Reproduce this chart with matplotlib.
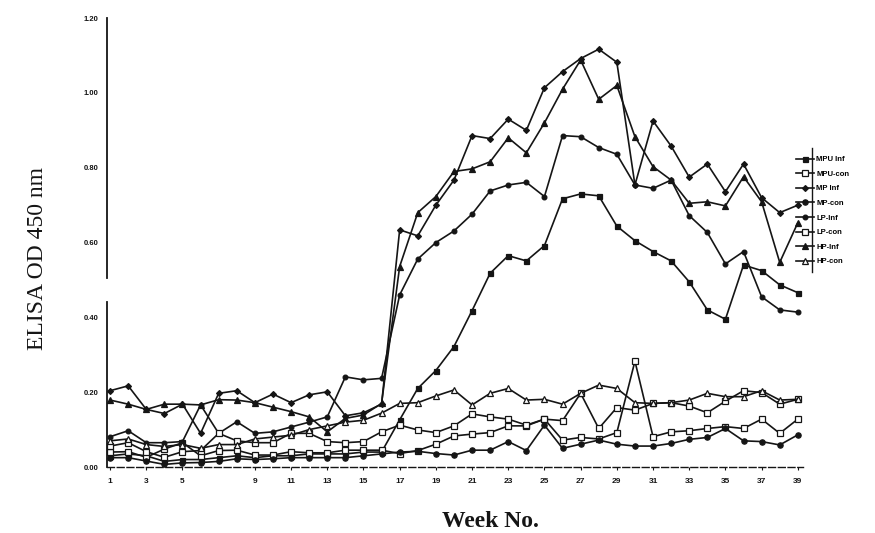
import matplotlib
matplotlib.use("Agg")
import matplotlib.pyplot as plt
from matplotlib.lines import Line2D

weeks = list(range(1, 40))

mpu_inf = [0.03, 0.035, 0.03, 0.015, 0.02, 0.02, 0.025, 0.03, 0.025, 0.03, 0.03, 0.035, 0.035, 0.035, 0.04, 0.04,
           0.126, 0.21, 0.258, 0.322, 0.418, 0.518, 0.565, 0.551, 0.592, 0.717, 0.73, 0.725, 0.644, 0.605,
           0.576, 0.551, 0.495, 0.42, 0.395, 0.54, 0.525, 0.487, 0.466]
mpu_con = [0.04, 0.041, 0.026, 0.048, 0.065, 0.03, 0.044, 0.045, 0.032, 0.032, 0.041, 0.038, 0.038, 0.045, 0.045,
           0.045, 0.036, 0.044, 0.061, 0.083, 0.088, 0.092, 0.11, 0.11, 0.128, 0.072, 0.079, 0.075, 0.092,
           0.283, 0.081, 0.094, 0.097, 0.103, 0.108, 0.103, 0.128, 0.09, 0.128]
mp_inf = [0.204, 0.217, 0.154, 0.143, 0.168, 0.09, 0.197, 0.204, 0.172, 0.195, 0.172, 0.193, 0.201, 0.137, 0.145,
          0.168, 0.634, 0.618, 0.70, 0.767, 0.886, 0.878, 0.93, 0.90, 1.014, 1.057, 1.092, 1.117, 1.082,
          0.754, 0.925, 0.858, 0.775, 0.81, 0.736, 0.81, 0.72, 0.68, 0.70]
mp_con = [0.025, 0.025, 0.016, 0.007, 0.011, 0.012, 0.015, 0.022, 0.02, 0.022, 0.025, 0.025, 0.025, 0.025, 0.03,
          0.035, 0.04, 0.042, 0.036, 0.032, 0.045, 0.045, 0.068, 0.044, 0.112, 0.05, 0.061, 0.072, 0.061,
          0.056, 0.056, 0.063, 0.074, 0.079, 0.103, 0.07, 0.068, 0.059, 0.086]
lp_inf = [0.081, 0.097, 0.065, 0.065, 0.068, 0.166, 0.09, 0.121, 0.09, 0.094, 0.107, 0.12, 0.134, 0.241, 0.233,
          0.237, 0.46, 0.556, 0.60, 0.631, 0.676, 0.738, 0.754, 0.761, 0.723, 0.886, 0.883, 0.854, 0.836,
          0.754, 0.745, 0.767, 0.672, 0.627, 0.543, 0.576, 0.455, 0.42, 0.414]
lp_con = [0.056, 0.065, 0.041, 0.026, 0.041, 0.044, 0.09, 0.07, 0.065, 0.065, 0.09, 0.09, 0.068, 0.065, 0.068,
          0.094, 0.112, 0.099, 0.092, 0.11, 0.142, 0.134, 0.128, 0.112, 0.128, 0.124, 0.197, 0.103, 0.159,
          0.152, 0.17, 0.172, 0.163, 0.145, 0.176, 0.204, 0.199, 0.168, 0.181]
hp_inf = [0.179, 0.168, 0.154, 0.168, 0.168, 0.166, 0.18, 0.179, 0.172, 0.16, 0.148, 0.134, 0.094, 0.13, 0.139,
          0.17, 0.536, 0.68, 0.723, 0.79, 0.797, 0.816, 0.88, 0.84, 0.92, 1.01, 1.088, 0.983, 1.02,
          0.883, 0.803, 0.767, 0.705, 0.709, 0.698, 0.776, 0.709, 0.547, 0.653]
hp_con = [0.07, 0.075, 0.06, 0.055, 0.06, 0.05, 0.06, 0.06, 0.075, 0.08, 0.085, 0.1, 0.11, 0.12, 0.125,
          0.144, 0.17, 0.172, 0.19, 0.206, 0.166, 0.197, 0.21, 0.179, 0.181, 0.168, 0.197, 0.219, 0.21,
          0.172, 0.17, 0.172, 0.179, 0.197, 0.188, 0.188, 0.204, 0.179, 0.181]

series_names = ["MPU Inf", "MPU-con", "MP Inf", "MP-con", "LP-Inf", "LP-con", "HP-Inf", "HP-con"]
series_values = [mpu_inf, mpu_con, mp_inf, mp_con, lp_inf, lp_con, hp_inf, hp_con]

x_ticks = [1, 3, 5, 9, 11, 13, 15, 17, 19, 21, 23, 25, 27, 29, 31, 33, 35, 37, 39]
x_tick_labels = [str(t) for t in x_ticks]
y_ticks = [0.0, 0.2, 0.4, 0.6, 0.8, 1.0, 1.2]
y_tick_labels = ["0.00", "0.20", "0.40", "0.60", "0.80", "1.00", "1.20"]

ink = "#151515"
styles = {
    "MPU Inf": dict(marker="s", mfc=ink, ms=3.6),
    "MPU-con": dict(marker="s", mfc="white", ms=4.2),
    "MP Inf": dict(marker="D", mfc=ink, ms=3.0),
    "MP-con": dict(marker="o", mfc=ink, ms=3.8),
    "LP-Inf": dict(marker="o", mfc=ink, ms=3.4),
    "LP-con": dict(marker="s", mfc="white", ms=4.2),
    "HP-Inf": dict(marker="^", mfc=ink, ms=3.8),
    "HP-con": dict(marker="^", mfc="white", ms=3.8),
}

fig = plt.figure(figsize=(8.75, 5.33), dpi=100)
ax = fig.add_axes([0.1223, 0.1238, 0.7957, 0.8422])

for name, vals in zip(series_names, series_values):
    st = styles[name]
    ax.plot(weeks, vals, color=ink, lw=1.2, marker=st["marker"], ms=st["ms"],
            mfc=st["mfc"], mec=ink, mew=0.9, label=name, clip_on=False)

ax.set_xlim(0.83, 39.3)
ax.set_ylim(0, 1.2)

for side in ["top", "right", "left"]:
    ax.spines[side].set_visible(False)
ax.spines["bottom"].set_linestyle((0, (5, 2)))
ax.spines["bottom"].set_linewidth(1.0)
ax.spines["bottom"].set_color(ink)

# broken y axis
ax.plot([0.83, 0.83], [0.0, 0.44], color=ink, lw=1.3, clip_on=False)
ax.plot([0.83, 0.83], [0.505, 1.2], color=ink, lw=1.3, clip_on=False)

ax.set_xticks(x_ticks)
ax.set_xticklabels(x_tick_labels, fontsize=6, fontweight="bold", family="Liberation Sans")
ax.set_yticks(y_ticks)
ax.set_yticklabels(y_tick_labels, fontsize=5.5, fontweight="bold", family="Liberation Sans")
ax.tick_params(axis="x", length=2, width=0.8, pad=6, colors=ink)
ax.tick_params(axis="y", length=0, pad=6, colors=ink)

fig.text(0.043, 0.515, "ELISA OD 450 nm", rotation=90, ha="center", va="center",
         fontsize=17, family="Liberation Serif", color=ink)
fig.text(0.56, 0.022, "Week No.", ha="center", va="center",
         fontsize=17, fontweight="bold", family="Liberation Serif", color=ink)

leg = ax.legend(loc="upper left", bbox_to_anchor=(0.985, 0.70), frameon=False,
                prop={"size": 5.5, "weight": "bold", "family": "Liberation Sans"},
                handlelength=2.4, labelspacing=0.95, handletextpad=0.3, borderaxespad=0)
fig.add_artist(Line2D([812 / 875, 812 / 875], [1 - 148 / 533, 1 - 272 / 533],
                      color=ink, lw=1.0))

fig.savefig("out.png", dpi=100)
